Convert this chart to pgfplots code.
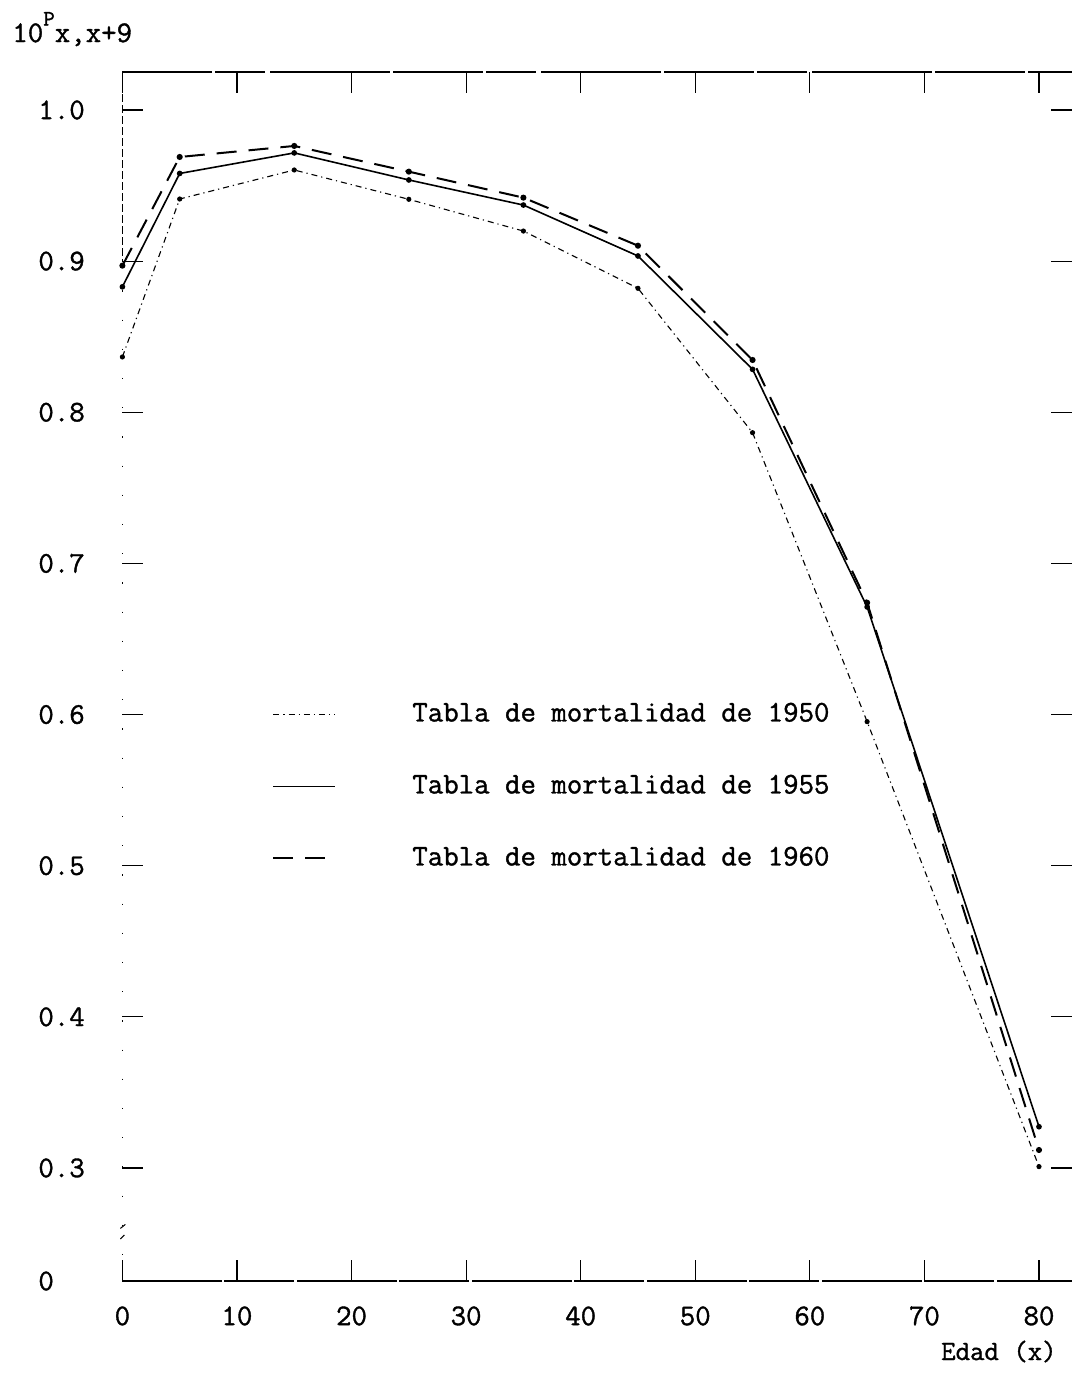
\documentclass[border=0pt]{standalone}
\usepackage{fontspec}
\setmonofont{Latin Modern Mono}[FakeBold=1.2]
\usepackage{pgfplots}
\pgfplotsset{compat=1.18}
\newcommand{\fs}{\fontsize{15}{18}\selectfont\ttfamily}
\begin{document}
\begin{tikzpicture}
\begin{axis}[
  scale only axis, width=474.8pt, height=604.5pt,
  xmin=0, xmax=82.88, ymin=0.2252, ymax=1.0251,
  axis line style={draw=none},
  clip=false,
  xtick={0,10,20,30,40,50,60,70,80},
  xticklabels={0,10,20,30,40,50,60,70,80},
  ytick={0.3,0.4,0.5,0.6,0.7,0.8,0.9,1.0},
  yticklabels={0.3,0.4,0.5,0.6,0.7,0.8,0.9,1.0},
  extra y ticks={0.2252},
  extra y tick labels={0},
  extra y tick style={major tick length=0pt},
  major tick length=10.5pt,
  tick style={line width=0.6pt, black},
  xticklabel style={font=\fs, inner sep=0pt, anchor=north, yshift=-12.5pt},
  yticklabel style={font=\fs, inner sep=0pt, anchor=west, xshift=-42.2pt},
  legend style={draw=none, fill=none, inner sep=0pt, at={(0.1575,0.4797)}, anchor=north west,
    font=\fs, row sep=23pt, nodes={text height=10pt, text depth=3pt, inner sep=0pt}},
  legend cell align=left,
  legend image code/.code={\draw[#1,mark=none] (0pt,0pt) -- (31pt,0pt); \path[draw=none,fill=none] (0pt,0pt) -- (69.5pt,0pt);},
]
\addplot[black, line width=0.55pt, dash pattern=on 3pt off 2pt on 0.6pt off 2pt,
  mark=*, mark size=1pt, mark options={solid}] coordinates {
(0,0.8366) (5,0.9411) (15,0.9603) (25,0.9409) (35,0.9199) (45,0.8820) (55,0.7865) (65,0.5953) (80,0.3009)};
\addplot[black, line width=0.8pt, mark=*, mark size=1pt] coordinates {
(0,0.883) (5,0.958) (15,0.9716) (25,0.9537) (35,0.9371) (45,0.9034) (55,0.8284) (65,0.6712) (80,0.3273)};
\addplot[black, line width=1pt, dash pattern=on 10pt off 6pt,
  mark=*, mark size=1pt, mark options={solid}] coordinates {
(0,0.897) (5,0.9689) (15,0.9762) (25,0.9592) (35,0.9420) (45,0.9102) (55,0.8346) (65,0.6740) (80,0.3119)};
\legend{Tabla de mortalidad de 1950, Tabla de mortalidad de 1955, Tabla de mortalidad de 1960}
% frame
\draw[line width=0.6pt, dash pattern=on 45pt off 1.5pt on 25pt off 2.5pt on 60pt off 1.5pt] (axis cs:0,1.0251) -- (axis cs:82.88,1.0251);
\draw[line width=0.6pt, dash pattern=on 50pt off 1pt on 35pt off 1.5pt] (axis cs:0,0.2252) -- (axis cs:82.88,0.2252);
\draw[line width=0.5pt, dash pattern=on 4pt off 1.5pt] (axis cs:0,1.0251) -- (axis cs:0,0.9);
\draw[line width=0.4pt, dash pattern=on 0.6pt off 14pt] (axis cs:0,0.9) -- (axis cs:0,0.2252);
\draw[line width=0.5pt] (axis cs:0,0.262) ++(-1pt,-1.5pt) -- ++(2.5pt,2pt);
\draw[line width=0.5pt] (axis cs:0,0.255) ++(-1pt,-1.5pt) -- ++(2pt,2pt);
% labels
\node[anchor=base west, font=\fs, inner sep=0pt, xshift=-55.2pt, yshift=15pt] at (rel axis cs:0,1)
  {10\raisebox{0.55em}{\fontsize{11}{12}\selectfont P}x,x+9};
\node[anchor=base east, font=\fontsize{14}{16}\selectfont\ttfamily, inner sep=0pt, xshift=-7.5pt, yshift=-39.5pt] at (rel axis cs:1,0) {Edad (x)};
\coordinate (BL) at (axis cs:-10.683,0.16171);
\coordinate (TR) at (axis cs:82.88,1.07278);
\end{axis}
\pgfresetboundingbox
\path[use as bounding box] (BL) rectangle (TR);
\end{tikzpicture}
\end{document}
